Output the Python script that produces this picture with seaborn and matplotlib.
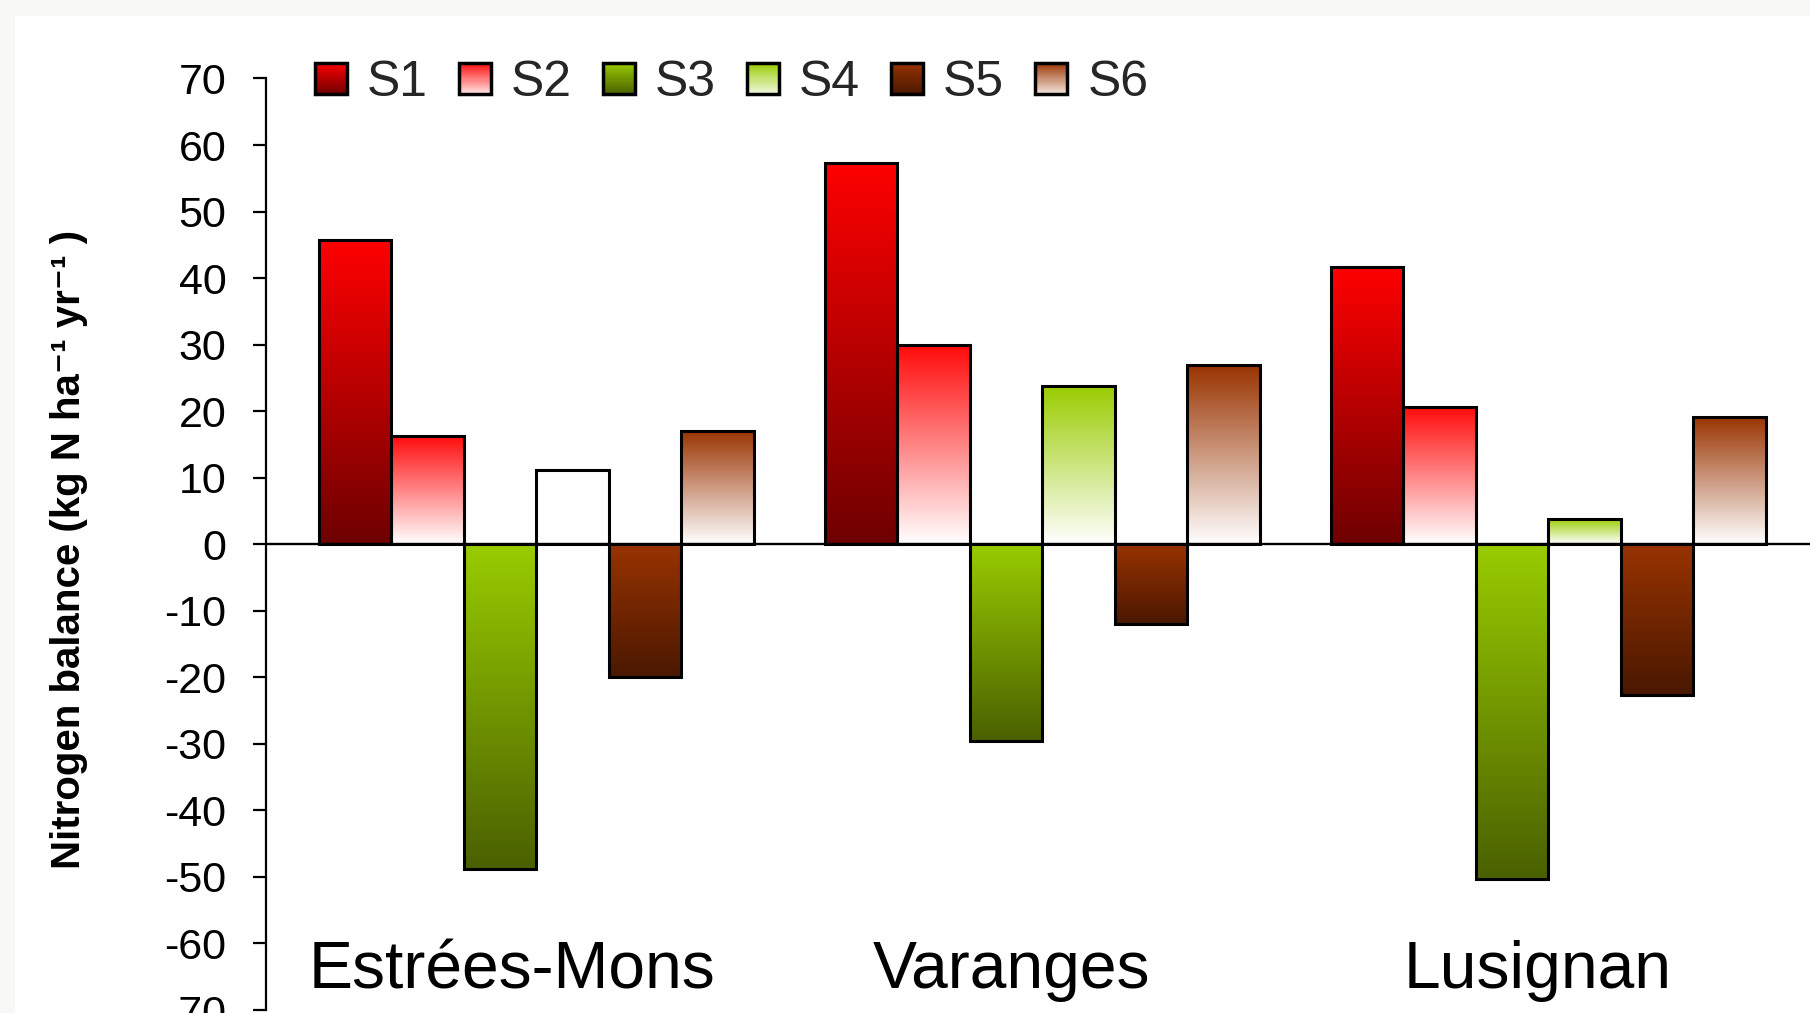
import numpy as np
import pandas as pd
import matplotlib
matplotlib.use("Agg")
import matplotlib.pyplot as plt
import seaborn as sns
from matplotlib.colors import LinearSegmentedColormap, to_rgb
from matplotlib.legend_handler import HandlerBase
from matplotlib.patches import Rectangle

# ---------------- data ----------------
sites = ["Estrées-Mons", "Varanges", "Lusignan"]
systems = ["S1", "S2", "S3", "S4", "S5", "S6"]
s1 = [45.7, 57.3, 41.7]
s2 = [16.3, 29.9, 20.7]
s3 = [-48.8, -29.5, -50.3]
s4 = [11.1, 23.8, 3.8]
s5 = [-20.0, -12.0, -22.7]
s6 = [17.0, 26.9, 19.1]
yticks = list(range(-70, 71, 10))
ylabel = "Nitrogen balance (kg N ha\u207b\u00b9 yr\u207b\u00b9 )"

# gradient colours (top -> bottom of each bar)
grad_top = {"S1": "#ff0000", "S2": "#ff0a0a", "S3": "#99cc00",
            "S4": "#99cc00", "S5": "#993300", "S6": "#993300"}
grad_bottom = {"S1": "#6e0000", "S2": "#ffffff", "S3": "#4a6000",
               "S4": "#ffffff", "S5": "#4a1800", "S6": "#ffffff"}
special = {("Estrées-Mons", "S4"): ("#ffffff", "#ffffff")}

values = {"S1": s1, "S2": s2, "S3": s3, "S4": s4, "S5": s5, "S6": s6}
df = pd.DataFrame([(site, s, values[s][i]) for s in systems
                   for i, site in enumerate(sites)],
                  columns=["site", "system", "value"])

# ---------------- style ----------------
sns.set_theme(style="white")
plt.rcParams["font.family"] = ["Liberation Sans", "DejaVu Sans"]

W, H = 1810, 1013
fig = plt.figure(figsize=(W / 100, H / 100), dpi=100)
fig.patch.set_facecolor("#f8f8f6")
fig.patches.append(Rectangle((15 / W, 0), 1, 1 - 16 / H, transform=fig.transFigure,
                             facecolor="white", edgecolor="none", zorder=-10))

ax = fig.add_axes([265.5 / W, 3 / H, 1 - 265.5 / W, (1010 - 78.5) / H])
ax.patch.set_alpha(0)

sns.barplot(data=df, x="site", y="value", hue="system", order=sites,
            hue_order=systems, width=0.86, dodge=True, saturation=1,
            palette=[grad_top[s] for s in systems], edgecolor="black",
            linewidth=2.2, legend=False, errorbar=None, ax=ax)

grad = np.linspace(0, 1, 256).reshape(-1, 1)
for sysname, cont in zip(systems, ax.containers):
    for site, bar in zip(sites, cont):
        top_c, bot_c = special.get((site, sysname), (grad_top[sysname], grad_bottom[sysname]))
        cmap = LinearSegmentedColormap.from_list("g", [top_c, bot_c])
        x0, w = bar.get_x(), bar.get_width()
        y0, h = bar.get_y(), bar.get_height()
        lo, hi = min(y0, y0 + h), max(y0, y0 + h)
        im = ax.imshow(grad, cmap=cmap, extent=[x0, x0 + w, lo, hi], origin="upper",
                       aspect="auto", zorder=bar.get_zorder() - 0.05,
                       interpolation="bilinear")
        im.set_clip_path(bar)
        bar.set_facecolor("none")

ax.axhline(0, color="black", lw=1.7, zorder=3)

ax.set_xlim(-0.535, 2.517)
ax.set_ylim(-70, 70)
ax.set_yticks(yticks)
ax.set_yticklabels([str(t) for t in yticks])
ax.tick_params(axis="y", labelsize=31, length=9.6, width=1.6, pad=18.5,
               left=True, direction="out", colors="black")
ax.set_xticks([])
ax.set_xlabel("")
ax.set_ylabel("")
for sp in ["top", "right", "bottom"]:
    ax.spines[sp].set_visible(False)
ax.spines["left"].set_color("black")
ax.spines["left"].set_linewidth(1.6)

# site names inside the plot
label_shift = [-0.047, -0.060, -0.022]
for i, site in enumerate(sites):
    ax.text(i + label_shift[i], -64.2, site, ha="center", va="center",
            fontsize=47.5, color="black")

fig.text(69 / W, 1 - 549 / H, ylabel, rotation=90, ha="center", va="center",
         fontsize=29, fontweight="bold", color="black")


# ---------------- legend with gradient keys ----------------
class GradKey:
    def __init__(self, top, bot):
        self.top, self.bot = top, bot


class GradHandler(HandlerBase):
    def create_artists(self, legend, orig_handle, xdescent, ydescent, width,
                       height, fontsize, trans):
        arts = []
        n = 30
        t, b = np.array(to_rgb(orig_handle.top)), np.array(to_rgb(orig_handle.bot))
        for i in range(n):
            f = (i + 0.5) / n
            c = t * (1 - f) + b * f
            r = Rectangle((-xdescent, -ydescent + height * (1 - (i + 1) / n)),
                          width, height / n + 0.01, facecolor=c, edgecolor="none",
                          transform=trans)
            arts.append(r)
        arts.append(Rectangle((-xdescent, -ydescent), width, height, fill=False,
                              edgecolor="black", lw=2.5, transform=trans))
        return arts


leg_top = {"S1": "#ff0000", "S2": "#ff0a0a", "S3": "#99cc00",
           "S4": "#99cc00", "S5": "#993300", "S6": "#993300"}
leg_bot = {"S1": "#6e0000", "S2": "#ffe8e8", "S3": "#4a6000",
           "S4": "#f0f8e0", "S5": "#4a1800", "S6": "#f5e8e0"}
handles = [GradKey(leg_top[s], leg_bot[s]) for s in systems]
fig.legend(handles, systems, handler_map={GradKey: GradHandler()}, ncol=6,
           loc="center left", bbox_to_anchor=(0.174, 0.918),
           bbox_transform=fig.transFigure, frameon=False, fontsize=36,
           handlelength=0.64, handleheight=0.6, handletextpad=0.4,
           columnspacing=0.62, borderpad=0, borderaxespad=0)

fig.savefig("out.png", dpi=100, facecolor=fig.get_facecolor())
